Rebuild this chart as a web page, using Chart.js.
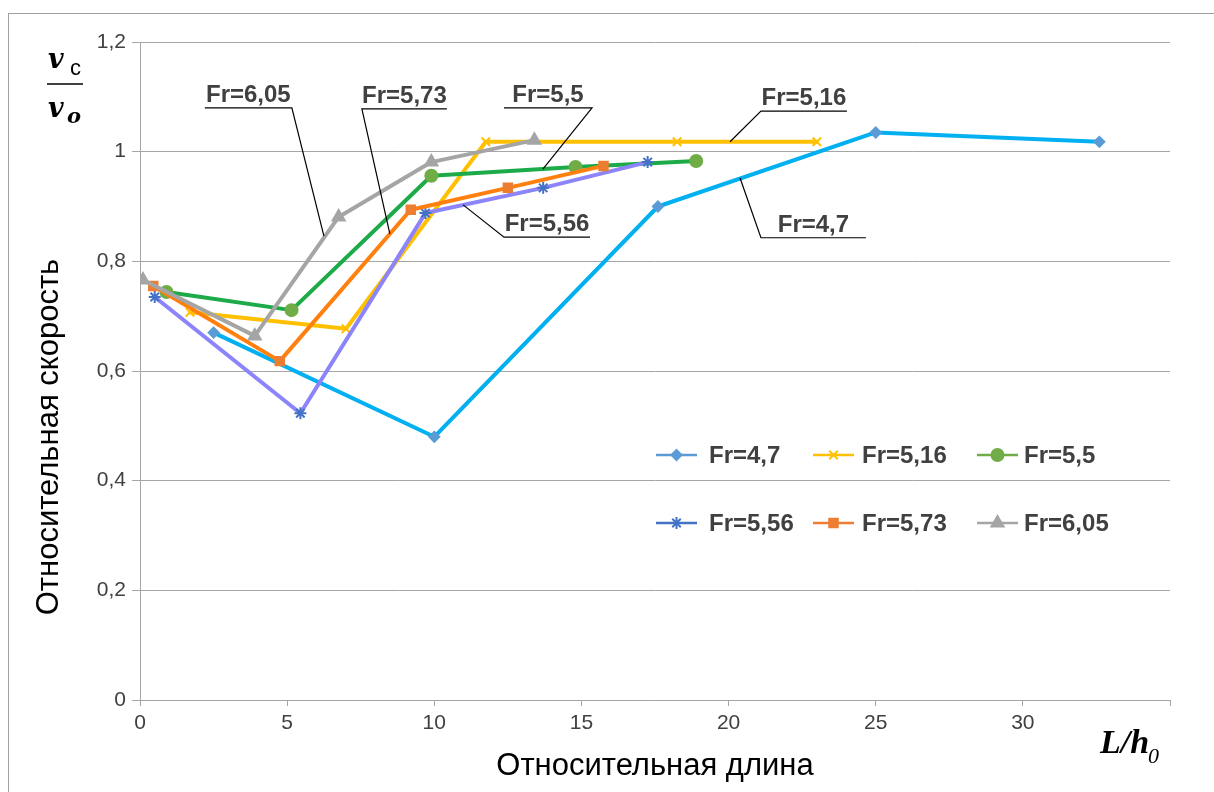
<!DOCTYPE html>
<html>
<head>
<meta charset="utf-8">
<script src="https://cdn.jsdelivr.net/npm/chart.js@4/dist/chart.umd.min.js"></script>
<style>
  html, body { margin: 0; padding: 0; background: #fff; }
  #wrap { width: 1214px; height: 792px; }
</style>
</head>
<body>
<div id="wrap"><canvas id="speedChart" width="1214" height="792"></canvas></div>
<script>
//series names (Froude number)
const seriesNames = ['Fr=4,7', 'Fr=5,16', 'Fr=5,5', 'Fr=5,56', 'Fr=5,73', 'Fr=6,05'];

//relative length L/h0 and relative velocity vc/vo for every series
const len47 = [2.5, 10.0, 17.6, 25.0, 32.6];
const vel47 = [0.67, 0.48, 0.90, 1.035, 1.018];

const len516 = [1.7, 7.0, 11.75, 18.25, 23.0];
const vel516 = [0.707, 0.677, 1.018, 1.018, 1.018];

const len55 = [0.9, 5.15, 9.9, 14.8, 18.9];
const vel55 = [0.744, 0.711, 0.956, 0.972, 0.983];

const len556 = [0.5, 5.45, 9.7, 13.7, 17.25];
const vel556 = [0.735, 0.523, 0.888, 0.934, 0.981];

const len573 = [0.45, 4.75, 9.2, 12.5, 15.75];
const vel573 = [0.755, 0.618, 0.894, 0.934, 0.974];

const len605 = [0.1, 3.9, 6.75, 9.9, 13.4];
const vel605 = [0.766, 0.664, 0.881, 0.981, 1.021];

//tick labels
const xTickLabels = ['0', '5', '10', '15', '20', '25', '30', ''];
const yTickLabels = ['0', '0,2', '0,4', '0,6', '0,8', '1', '1,2'];

//callout labels with leader lines (points in data units)
const callouts = [
  { text: 'Fr=6,05', at: [5.16, 1.08], tip: [6.25, 0.846], dir: -1, len: 87 },
  { text: 'Fr=5,73', at: [7.54, 1.078], tip: [8.49, 0.85], dir: 1, len: 85 },
  { text: 'Fr=5,5', at: [15.36, 1.08], tip: [13.69, 0.968], dir: -1, len: 88 },
  { text: 'Fr=5,56', at: [12.37, 0.844], tip: [10.98, 0.903], dir: 1, len: 86 },
  { text: 'Fr=5,16', at: [21.1, 1.074], tip: [20.05, 1.018], dir: 1, len: 86 },
  { text: 'Fr=4,7', at: [21.1, 0.843], tip: [20.39, 0.952], dir: 1, len: 105 }
];

//zip x and y arrays into points
function toPoints(xs, ys) {
  return xs.map((x, i) => ({ x: x, y: ys[i] }));
}

const lineStyles = [
  { line: '#00B0F0', marker: '#5B9BD5', style: 'rectRot', r: 5 },
  { line: '#FFC000', marker: '#FFC000', style: 'crossRot', r: 6 },
  { line: '#1DAA48', marker: '#70AD47', style: 'circle', r: 6 },
  { line: '#8C84FA', marker: '#4472C4', style: 'star', r: 6 },
  { line: '#FF7F0F', marker: '#ED7D31', style: 'rect', r: 6 },
  { line: '#A5A5A5', marker: '#A5A5A5', style: 'triangle', r: 7 }
];

const seriesData = [
  toPoints(len47, vel47),
  toPoints(len516, vel516),
  toPoints(len55, vel55),
  toPoints(len556, vel556),
  toPoints(len573, vel573),
  toPoints(len605, vel605)
];

const datasets = seriesNames.map((name, i) => ({
  label: name,
  data: seriesData[i],
  borderColor: lineStyles[i].line,
  borderWidth: 4,
  borderJoinStyle: 'round',
  borderCapStyle: 'round',
  pointStyle: lineStyles[i].style,
  pointRadius: lineStyles[i].r,
  pointBorderWidth: 2,
  pointBackgroundColor: lineStyles[i].marker,
  pointBorderColor: lineStyles[i].marker,
  legendColor: lineStyles[i].marker,
  order: seriesNames.length - i, //later series on top
  tension: 0,
  fill: false
}));

const textGray = '#404040';
const gridGray = '#A6A6A6';

//axis titles, fraction label, callouts and the legend
const decor = {
  id: 'decor',
  beforeDraw(chart) {
    const ctx = chart.ctx;
    ctx.save();
    ctx.fillStyle = '#fff';
    ctx.fillRect(0, 0, chart.width, chart.height);
    ctx.strokeStyle = '#A0A0A0';
    ctx.lineWidth = 1;
    ctx.strokeRect(8.5, 13.5, chart.width + 20, chart.height + 20);
    ctx.restore();
  },
  afterDatasetsDraw(chart) {
    const ctx = chart.ctx;
    const xs = chart.scales.x;
    const ys = chart.scales.y;
    ctx.save();
    ctx.font = 'bold 24px "Liberation Sans", Arial, sans-serif';
    ctx.textAlign = 'center';
    ctx.textBaseline = 'alphabetic';
    callouts.forEach(c => {
      const ex = xs.getPixelForValue(c.at[0]);
      const ey = ys.getPixelForValue(c.at[1]);
      const tx = xs.getPixelForValue(c.tip[0]);
      const ty = ys.getPixelForValue(c.tip[1]);
      const fx = ex + c.dir * c.len;
      ctx.strokeStyle = '#000';
      ctx.lineWidth = 1.2;
      ctx.beginPath();
      ctx.moveTo(fx, ey);
      ctx.lineTo(ex, ey);
      ctx.lineTo(tx, ty);
      ctx.stroke();
      ctx.fillStyle = textGray;
      ctx.fillText(c.text, (ex + fx) / 2, ey - 6);
    });
    ctx.restore();
  },
  afterDraw(chart) {
    const ctx = chart.ctx;
    const area = chart.chartArea;
    ctx.save();

    //y axis title
    ctx.fillStyle = '#000';
    ctx.font = '31px "Liberation Sans", Arial, sans-serif';
    ctx.textAlign = 'center';
    ctx.textBaseline = 'middle';
    ctx.translate(49, (area.top + area.bottom) / 2 + 66);
    ctx.rotate(-Math.PI / 2);
    ctx.fillText('Относительная скорость', 0, 0);
    ctx.setTransform(1, 0, 0, 1, 0, 0);

    //x axis title
    ctx.font = '31px "Liberation Sans", Arial, sans-serif';
    ctx.fillText('Относительная длина', 655, 766);

    //L/h0
    ctx.textAlign = 'left';
    ctx.textBaseline = 'alphabetic';
    ctx.font = 'bold italic 34px "Liberation Serif", serif';
    ctx.fillText('L/h', 1100, 753);
    const lhWidth = ctx.measureText('L/h').width;
    ctx.font = 'italic 22px "Liberation Serif", serif';
    ctx.fillText('0', 1100 + lhWidth - 1, 763);

    //vc / vo fraction
    ctx.font = 'bold italic 27px "DejaVu Serif", serif';
    ctx.fillText('v', 48, 68);
    ctx.fillText('v', 48, 117);
    ctx.font = '22px "Liberation Sans", Arial, sans-serif';
    ctx.fillText('с', 70, 75);
    ctx.font = 'bold italic 21px "DejaVu Serif", serif';
    ctx.fillText('o', 67, 123);
    ctx.strokeStyle = '#000';
    ctx.lineWidth = 1.5;
    ctx.beginPath();
    ctx.moveTo(47, 84);
    ctx.lineTo(83, 84);
    ctx.stroke();

    //legend, two rows of three
    const rows = [455, 523];
    const cols = [656, 813, 977];
    const textX = [709, 862, 1024];
    ctx.font = 'bold 24px "Liberation Sans", Arial, sans-serif';
    ctx.textBaseline = 'middle';
    chart.data.datasets.forEach((ds, i) => {
      const y = rows[Math.floor(i / 3)];
      const x0 = cols[i % 3];
      ctx.strokeStyle = ds.legendColor;
      ctx.lineWidth = 2.5;
      ctx.beginPath();
      ctx.moveTo(x0, y);
      ctx.lineTo(x0 + 41, y);
      ctx.stroke();
      ctx.fillStyle = ds.legendColor;
      ctx.lineWidth = 2;
      Chart.helpers.drawPoint(ctx, {
        pointStyle: ds.pointStyle,
        radius: ds.pointRadius,
        borderWidth: 2,
        rotation: 0
      }, x0 + 20.5, y);
      ctx.fillStyle = textGray;
      ctx.fillText(ds.label, textX[i % 3], y + 1);
    });

    ctx.restore();
  }
};

new Chart(document.getElementById('speedChart'), {
  type: 'line',
  data: { datasets: datasets },
  options: {
    responsive: false,
    animation: false,
    layout: { padding: { left: 8, top: 42, right: 44, bottom: 0 } },
    plugins: {
      legend: { display: false },
      tooltip: { enabled: false }
    },
    scales: {
      x: {
        type: 'linear',
        min: 0,
        max: 35,
        ticks: {
          stepSize: 5,
          color: textGray,
          padding: 5,
          font: { size: 21, family: '"Liberation Sans", Arial, sans-serif' },
          callback: (v, i) => xTickLabels[i]
        },
        grid: { drawOnChartArea: false, drawTicks: true, tickLength: 6, color: gridGray },
        border: { color: gridGray },
        afterFit: s => { s.height = 92; }
      },
      y: {
        min: 0,
        max: 1.2,
        ticks: {
          stepSize: 0.2,
          color: textGray,
          padding: 6,
          font: { size: 21, family: '"Liberation Sans", Arial, sans-serif' },
          callback: (v, i) => yTickLabels[i]
        },
        grid: { color: gridGray, tickLength: 8 },
        border: { color: gridGray },
        afterFit: s => { s.width = 132; }
      }
    }
  },
  plugins: [decor]
});
</script>
</body>
</html>
